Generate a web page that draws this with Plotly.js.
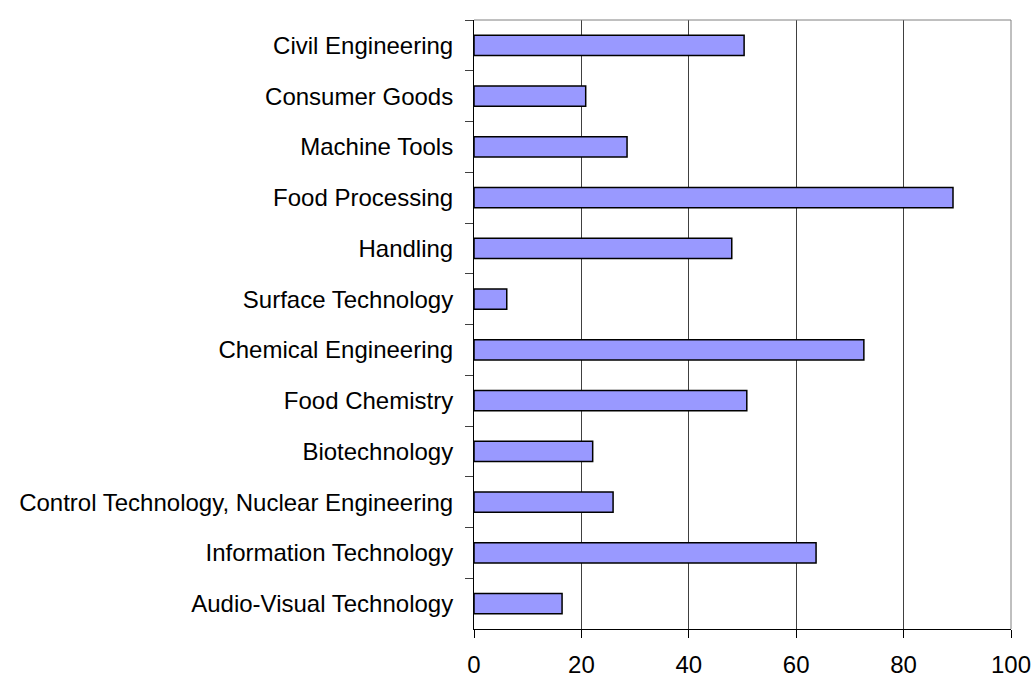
<!DOCTYPE html>
<html>
<head>
<meta charset="utf-8">
<script src="https://cdn.plot.ly/plotly-3.0.1.min.js"></script>
<style>html,body{margin:0;padding:0;background:#fff;}#chart{width:1034px;height:677px;}</style>
</head>
<body>
<div id="chart"></div>
<script>
var categories = [
  "Civil Engineering",
  "Consumer Goods",
  "Machine Tools",
  "Food Processing",
  "Handling",
  "Surface Technology",
  "Chemical Engineering",
  "Food Chemistry",
  "Biotechnology",
  "Control Technology, Nuclear Engineering",
  "Information Technology",
  "Audio-Visual Technology"
];
var values = [50.3, 20.8, 28.5, 89.2, 48.0, 6.1, 72.6, 50.8, 22.1, 25.9, 63.7, 16.4];
var xTicks = [0, 20, 40, 60, 80, 100];

var trace = {
  type: 'bar',
  orientation: 'h',
  y: categories,
  x: values,
  marker: {color: '#9999FF', line: {color: '#000000', width: 1.5}},
  hoverinfo: 'x+y'
};

var layout = {
  width: 1034,
  height: 677,
  margin: {l: 473.5, r: 23, t: 20, b: 47.5, pad: 0},
  paper_bgcolor: '#ffffff',
  plot_bgcolor: '#ffffff',
  showlegend: false,
  bargap: 0.6,
  font: {family: 'Liberation Sans, Arial, sans-serif', color: '#000000'},
  xaxis: {
    range: [0, 100],
    tickvals: xTicks,
    ticktext: xTicks.map(String),
    showgrid: true,
    gridcolor: '#404040',
    gridwidth: 1,
    zeroline: false,
    showline: true,
    linecolor: '#000000',
    linewidth: 1,
    ticks: 'outside',
    ticklen: 8,
    tickcolor: '#000000',
    tickfont: {size: 24, family: 'Liberation Sans, Arial, sans-serif'},
    ticklabelstandoff: 6,
    fixedrange: true
  },
  yaxis: {
    type: 'category',
    autorange: 'reversed',
    showgrid: false,
    zeroline: false,
    showline: true,
    linecolor: '#000000',
    linewidth: 1,
    ticks: 'outside',
    tickson: 'boundaries',
    ticklen: 8,
    tickcolor: '#404040',
    tickfont: {size: 24, family: 'Liberation Sans, Arial, sans-serif'},
    ticklabelstandoff: 15,
    fixedrange: true
  },
  shapes: [
    {type: 'line', xref: 'paper', yref: 'paper', x0: 0, x1: 1, y0: 1, y1: 1,
     line: {color: '#808080', width: 1}},
    {type: 'line', xref: 'paper', yref: 'paper', x0: 1, x1: 1, y0: 0, y1: 1,
     line: {color: '#808080', width: 1}}
  ]
};

Plotly.newPlot('chart', [trace], layout, {displayModeBar: false, staticPlot: true});
</script>
</body>
</html>
